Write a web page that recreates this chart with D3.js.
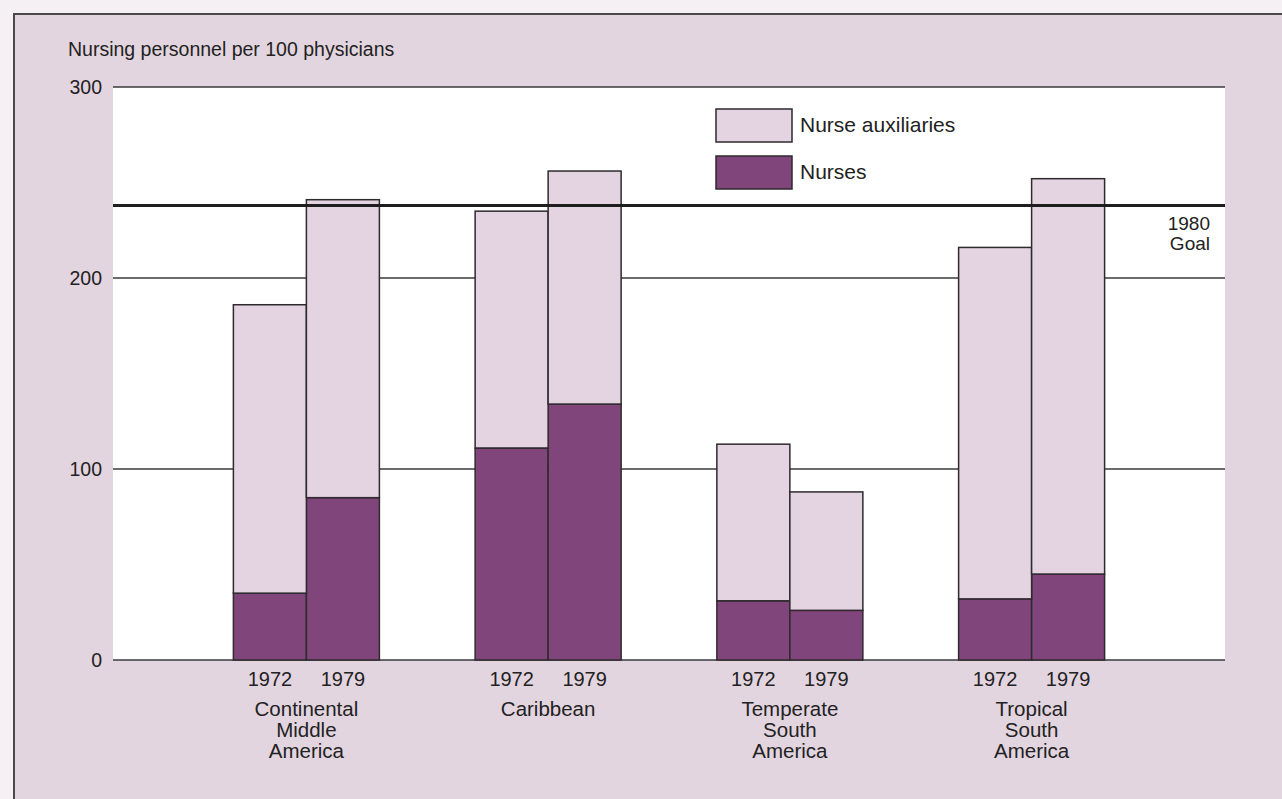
<!DOCTYPE html>
<html>
<head>
<meta charset="utf-8">
<script src="https://cdn.jsdelivr.net/npm/d3@7"></script>
<style>
  html, body { margin: 0; padding: 0; background: #f4f0f3; }
  svg { display: block; font-family: "Liberation Sans", Arial, sans-serif; }
</style>
</head>
<body>
<div id="chart"></div>
<script>
// data
const regions = ["Continental Middle America", "Caribbean", "Temperate South America", "Tropical South America"];
const regionLines = [["Continental", "Middle", "America"], ["Caribbean"], ["Temperate", "South", "America"], ["Tropical", "South", "America"]];
const years = ["1972", "1979"];
const nurses = [[35, 85], [111, 134], [31, 26], [32, 45]];
const auxiliaries = [[151, 156], [124, 122], [82, 62], [184, 207]];
const goalValue = 238;
const yTicks = [0, 100, 200, 300];
const seriesNames = ["Nurse auxiliaries", "Nurses"];

const width = 1282, height = 799;
const plotLeft = 113, plotRight = 1225, plotTop = 87, plotBottom = 660;
const nurseColor = "#80457a", auxColor = "#e4d4e1", bgColor = "#e3d5e0";

const svg = d3.select("#chart").append("svg")
    .attr("width", width)
    .attr("height", height);

// framed lavender panel
svg.append("rect")
    .attr("x", 14).attr("y", 14)
    .attr("width", 1400).attr("height", 900)
    .attr("fill", bgColor)
    .attr("stroke", "#4a4a4a")
    .attr("stroke-width", 2);

// white plot area
svg.append("rect")
    .attr("x", plotLeft).attr("y", plotTop)
    .attr("width", plotRight - plotLeft).attr("height", plotBottom - plotTop)
    .attr("fill", "#ffffff");

const y = d3.scaleLinear().domain([0, 300]).range([plotBottom, plotTop]);
const x0 = d3.scalePoint().domain(regions).range([plotLeft, plotRight]).padding(0.8);
const x1 = d3.scaleBand().domain(years).range([-73, 73]);

// gridlines and y labels
svg.selectAll(".grid")
    .data(yTicks)
    .join("line")
    .attr("x1", plotLeft).attr("x2", plotRight)
    .attr("y1", d => y(d)).attr("y2", d => y(d))
    .attr("stroke", "#3a3a3a")
    .attr("stroke-width", 1.5);

svg.selectAll(".ylab")
    .data(yTicks)
    .join("text")
    .attr("x", 102)
    .attr("y", d => y(d) + 7)
    .attr("text-anchor", "end")
    .attr("font-size", "19.5px")
    .attr("fill", "#222")
    .text(d => d);

svg.append("text")
    .attr("x", 68).attr("y", 56)
    .attr("font-size", "19.5px")
    .attr("fill", "#222")
    .text("Nursing personnel per 100 physicians");

// stacked bars
const rows = [];
regions.forEach((r, i) => {
    years.forEach((yr, j) => {
        rows.push({ region: r, year: yr, nurses: nurses[i][j], aux: auxiliaries[i][j] });
    });
});

const stack = d3.stack().keys(["nurses", "aux"]);
const stacked = stack(rows);

const groups = svg.selectAll(".series")
    .data(stacked)
    .join("g")
    .attr("fill", d => d.key === "nurses" ? nurseColor : auxColor);

groups.selectAll("rect")
    .data(d => d)
    .join("rect")
    .attr("x", d => x0(d.data.region) + x1(d.data.year))
    .attr("y", d => y(d[1]))
    .attr("width", x1.bandwidth())
    .attr("height", d => y(d[0]) - y(d[1]))
    .attr("stroke", "#2e2a2e")
    .attr("stroke-width", 1.5);

// 1980 goal line
svg.append("line")
    .attr("x1", plotLeft).attr("x2", plotRight)
    .attr("y1", y(goalValue)).attr("y2", y(goalValue))
    .attr("stroke", "#1e1e1e")
    .attr("stroke-width", 3);

svg.append("text")
    .attr("x", 1210).attr("y", y(goalValue) + 25)
    .attr("text-anchor", "end")
    .attr("font-size", "19px")
    .attr("fill", "#222")
    .selectAll("tspan")
    .data(["1980", "Goal"])
    .join("tspan")
    .attr("x", 1210)
    .attr("dy", (d, i) => i === 0 ? 0 : 20)
    .text(d => d);

// year labels
svg.selectAll(".yearlab")
    .data(rows)
    .join("text")
    .attr("x", d => x0(d.region) + x1(d.year) + x1.bandwidth() / 2)
    .attr("y", 686)
    .attr("text-anchor", "middle")
    .attr("font-size", "20px")
    .attr("fill", "#222")
    .text(d => d.year);

// region labels
svg.selectAll(".reglab")
    .data(regions)
    .join("text")
    .attr("text-anchor", "middle")
    .attr("font-size", "20.5px")
    .attr("fill", "#222")
    .each(function (d, i) {
        d3.select(this).selectAll("tspan")
            .data(regionLines[i])
            .join("tspan")
            .attr("x", x0(d))
            .attr("y", (t, k) => 716 + k * 21)
            .text(t => t);
    });

// legend
const legend = svg.append("g").attr("transform", "translate(716, 109)");
seriesNames.forEach((name, i) => {
    const item = legend.append("g").attr("transform", `translate(0, ${i * 47})`);
    item.append("rect")
        .attr("width", 76).attr("height", 33)
        .attr("fill", name === "Nurses" ? nurseColor : auxColor)
        .attr("stroke", "#2e2a2e")
        .attr("stroke-width", 1.5);
    item.append("text")
        .attr("x", 84).attr("y", 23)
        .attr("font-size", "21px")
        .attr("fill", "#222")
        .text(name);
});
</script>
</body>
</html>
